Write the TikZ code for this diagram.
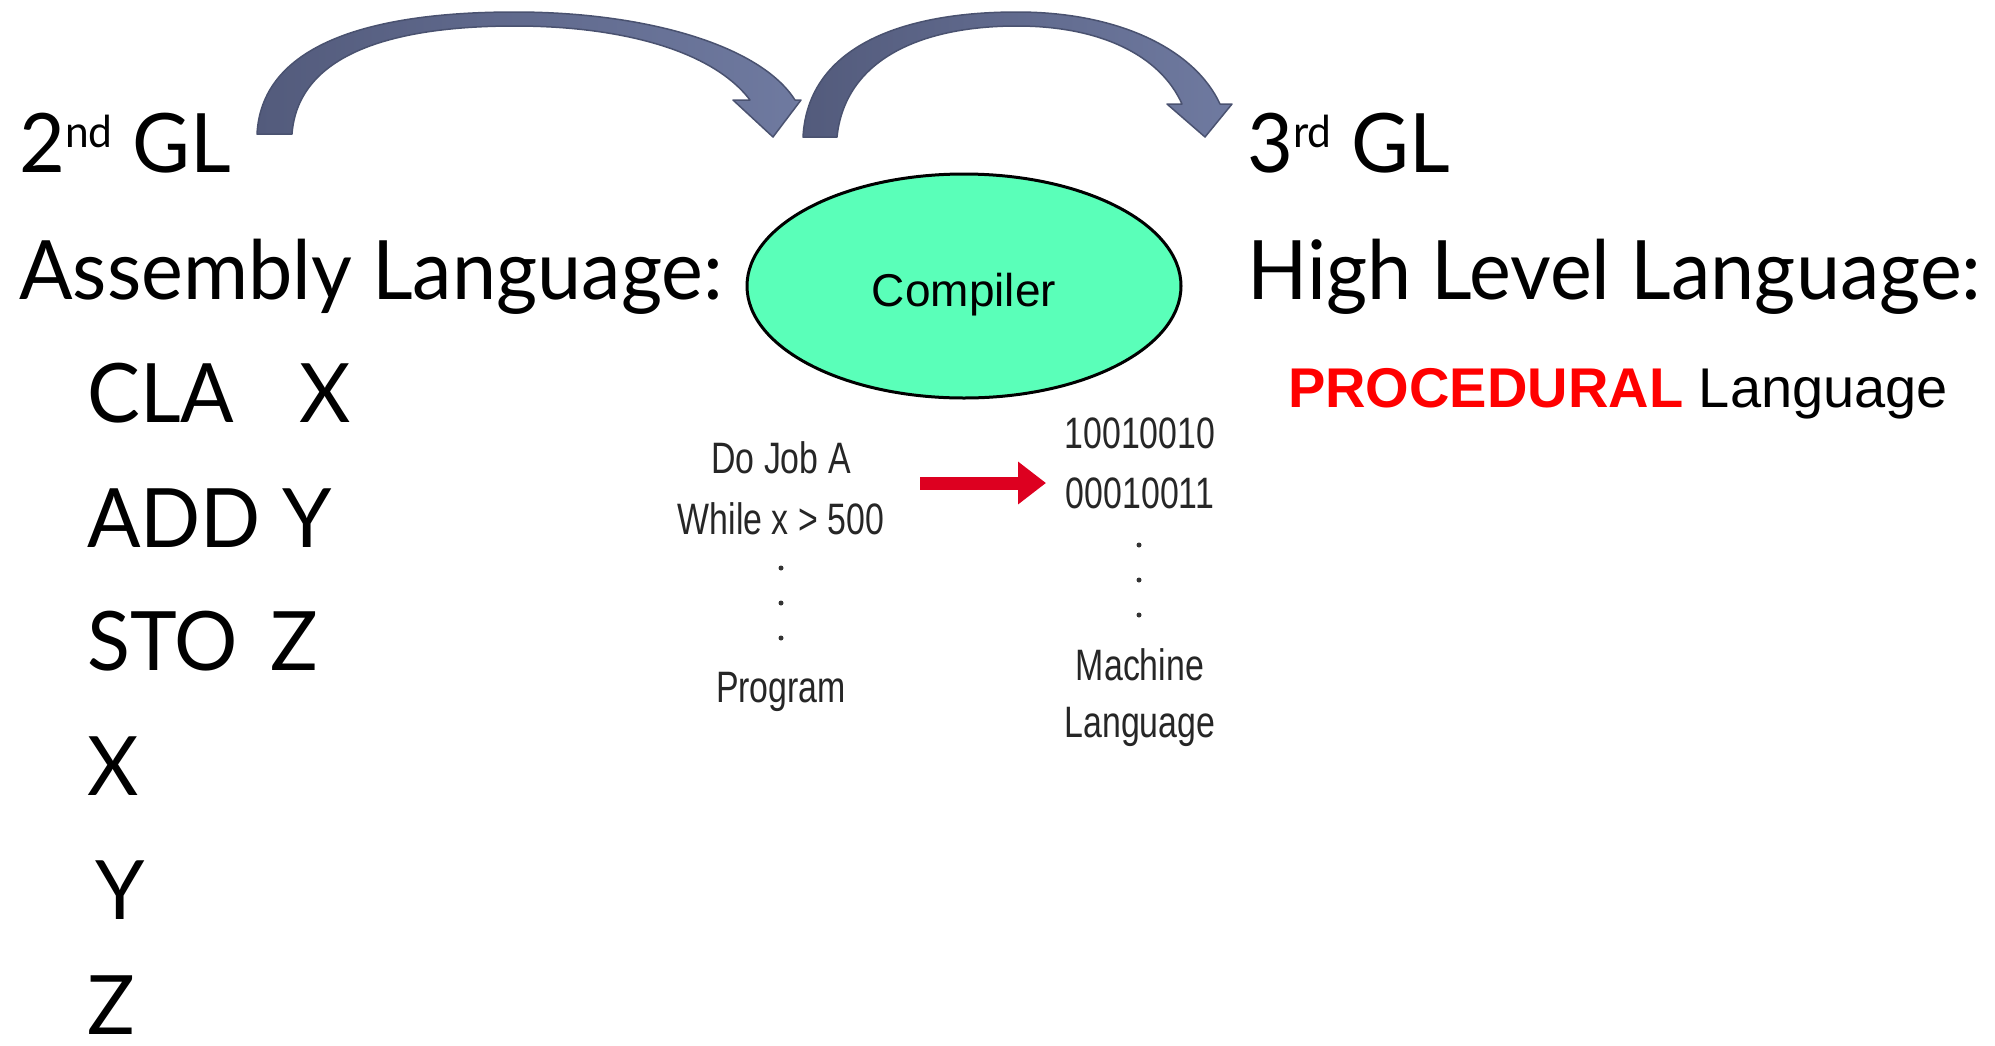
\documentclass[tikz,border=0pt]{standalone}
\usepackage{fontspec}
\setmainfont[FakeStretch=0.965]{Lato}
\newfontfamily\arialfont{Liberation Sans}
\newfontfamily\narrowfont[FakeStretch=0.77]{Liberation Sans}
\usetikzlibrary{shapes.geometric,arrows.meta}
\definecolor{arrowdark}{HTML}{535B7C}
\definecolor{arrowlight}{HTML}{6F7AA0}
\definecolor{arrowedge}{HTML}{4A5270}
\definecolor{mint}{HTML}{5AFFB9}
\definecolor{redarrow}{HTML}{DD0020}
\newcommand\supsc[1]{\raisebox{0.3em}{\fontsize{44}{44}\selectfont #1}}
\begin{document}
\begin{tikzpicture}[x=1pt,y=-1pt,
  big/.style={inner sep=0pt, anchor=base west, font=\fontsize{82}{90}\selectfont},
  small/.style={inner sep=0pt, anchor=base, font=\narrowfont\fontsize{44}{48}\selectfont, text=black!85},
  curvearrow/.style={left color=arrowdark, right color=arrowlight, draw=arrowedge, line width=1.5pt, line join=round},
  dotmark/.style={fill=black!80}]
\useasboundingbox (0,0) rectangle (1995,1045);

% left column
\node[big] (gl2) at (19,172) {2\supsc{nd} GL};
\node[big] (asm) at (19,299) {Assembly Language:};
\node[big] (l1) at (87,422) {\makebox[212pt][l]{CLA}X};
\node[big] (l2) at (87,547) {\makebox[195pt][l]{ADD}Y};
\node[big] (l3) at (87,670) {\makebox[183pt][l]{STO}Z};
\node[big] (l4) at (87,795) {X};
\node[big] (l5) at (95,919) {Y};
\node[big] (l6) at (87,1034) {Z};

% right column
\node[big] (gl3) at (1247,172) {3\supsc{rd} GL};
\node[big] (hll) at (1247,299) {High Level Language:};
\node[inner sep=0pt, anchor=base west, font=\arialfont\fontsize{56}{60}\selectfont] (proc) at (1288,407)
  {{\bfseries\color{red}PROCEDURAL} Language};

% compiler
\node[ellipse, draw=black, line width=3pt, fill=mint, minimum width=434pt, minimum height=224pt,
  inner sep=0pt, text height=51pt, text depth=10pt, font=\arialfont\fontsize{46}{50}\selectfont] (comp) at (964,286) {Compiler};

% program
\node[small] (do) at (781,473) {Do Job A};
\node[small] (wh) at (781,534) {While x > 500};
\fill[dotmark] (781,568) circle (2.5pt) (781,603) circle (2.5pt) (781,638) circle (2.5pt);
\node[small] (prog) at (781,702) {Program};

% machine language
\node[small] (b1) at (1140,448) {10010010};
\node[small] (b2) at (1140,508) {00010011};
\fill[dotmark] (1139,545) circle (2.5pt) (1139,580) circle (2.5pt) (1139,615) circle (2.5pt);
\node[small] (mach) at (1140,680) {Machine};
\node[small] (lang) at (1140,737) {Language};

% red arrow
\coordinate (ra1) at (920,483);
\coordinate (ra2) at (1046,483);
\draw[redarrow, line width=13pt, -{Triangle[length=28pt, width=41pt]}] (ra1) -- (ra2);

% curved arrows
\path[curvearrow] (257,134) .. controls (262,40) and (380,12) .. (515,12)
  .. controls (645,12) and (760,45) .. (795,100)
  -- (801,100) -- (773,137) -- (733,100) -- (750,100)
  .. controls (712,50) and (620,26) .. (515,26)
  .. controls (390,26) and (298,55) .. (292,134) -- cycle;
\path[curvearrow] (803,137) .. controls (808,45) and (905,12) .. (1017,12)
  .. controls (1120,12) and (1195,50) .. (1220,104)
  -- (1232,104) -- (1205,137) -- (1167,104) -- (1182,104)
  .. controls (1160,55) and (1100,26) .. (1017,26)
  .. controls (920,26) and (845,60) .. (837,137) -- cycle;
\end{tikzpicture}
\end{document}
